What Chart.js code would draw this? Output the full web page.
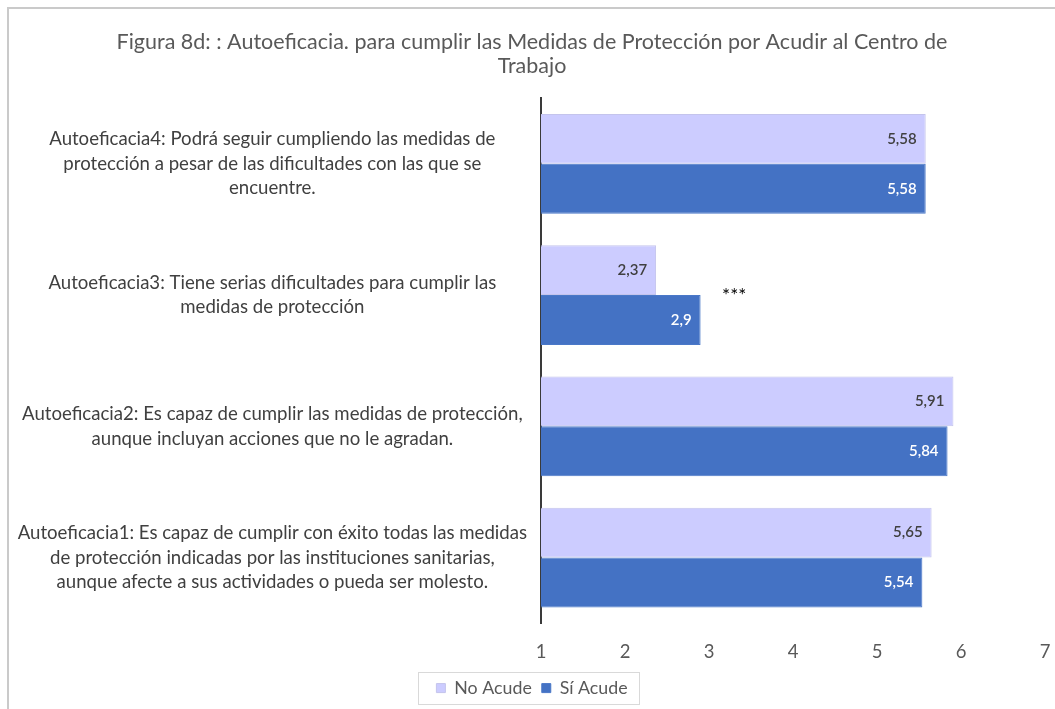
<!DOCTYPE html>
<html>
<head>
<meta charset="utf-8">
<script src="https://cdn.jsdelivr.net/npm/chart.js@4/dist/chart.umd.min.js"></script>
<style>
  html, body { margin: 0; padding: 0; background: #fff; overflow: hidden; }
  #frame {
    position: absolute; left: 7px; top: 7px;
    width: 1048px; height: 702px;
    border-top: 2px solid #cacaca; border-left: 2px solid #cacaca;
  }
  #chart { display: block; }
</style>
</head>
<body>
<div id="frame"><canvas id="chart" width="1046" height="700"></canvas></div>
<script>
// ----- data -----
const titleLines = ['Figura 8d: : Autoeficacia. para cumplir las Medidas de Protección por Acudir al Centro de', 'Trabajo'];
const categories = [
  ['Autoeficacia4: Podrá seguir cumpliendo las medidas de', 'protección a pesar de las dificultades con las que se', 'encuentre.'],
  ['Autoeficacia3: Tiene serias dificultades para cumplir las', 'medidas de protección'],
  ['Autoeficacia2: Es capaz de cumplir las medidas de protección,', 'aunque incluyan acciones que no le agradan.'],
  ['Autoeficacia1: Es capaz de cumplir con éxito todas las medidas', 'de protección indicadas por las instituciones sanitarias,', 'aunque afecte a sus actividades o pueda ser molesto.']
];
const noAcude = [5.58, 2.37, 5.91, 5.65];
const siAcude = [5.58, 2.9, 5.84, 5.54];
const seriesNames = ['No Acude', 'Sí Acude'];
const significance = ['', '***', '', ''];
const xTicks = [1, 2, 3, 4, 5, 6, 7];

const FONT = 'Lato, "Open Sans", sans-serif';

// value labels at the inner end of each bar
const barLabels = {
  id: 'barLabels',
  afterDatasetsDraw(chart) {
    const ctx = chart.ctx;
    ctx.save();
    ctx.font = '600 15px ' + FONT;
    ctx.textAlign = 'right';
    ctx.textBaseline = 'middle';
    chart.data.datasets.forEach((ds, di) => {
      const meta = chart.getDatasetMeta(di);
      meta.data.forEach((bar, i) => {
        ctx.fillStyle = di === 0 ? '#404040' : '#ffffff';
        ctx.fillText(String(ds.data[i]).replace('.', ','), bar.x - 9, bar.y);
      });
    });
    // significance marks beside the longest bar of the group
    const xs = chart.scales.x, ys = chart.scales.y;
    ctx.font = '19px ' + FONT;
    ctx.fillStyle = '#000';
    ctx.textAlign = 'center';
    significance.forEach((s, i) => {
      if (!s) return;
      const v = Math.max(noAcude[i], siAcude[i]) + 0.4;
      ctx.fillText(s, xs.getPixelForValue(v), ys.getPixelForValue(i) + 1);
    });
    ctx.restore();
  }
};

// thin frame round the legend
const legendFrame = {
  id: 'legendFrame',
  afterDraw(chart) {
    const boxes = chart.legend.legendHitBoxes;
    if (!boxes || !boxes.length) return;
    const l = Math.min(...boxes.map(b => b.left)) - 18;
    const r = Math.max(...boxes.map(b => b.left + b.width)) + 12;
    const t = Math.min(...boxes.map(b => b.top)) - 7;
    const bt = Math.max(...boxes.map(b => b.top + b.height)) + 7;
    const ctx = chart.ctx;
    ctx.save();
    ctx.strokeStyle = '#d9d9d9';
    ctx.lineWidth = 1;
    ctx.strokeRect(Math.round(l) + 0.5, Math.round(t) + 0.5, Math.round(r - l), Math.round(bt - t));
    ctx.restore();
  }
};

new Chart(document.getElementById('chart'), {
  type: 'bar',
  data: {
    labels: categories,
    datasets: [
      { label: seriesNames[0], data: noAcude, backgroundColor: '#ccccff', borderColor: '#c4c4ec', borderWidth: 1, borderSkipped: 'left' },
      { label: seriesNames[1], data: siAcude, backgroundColor: '#4472c4', borderColor: '#4a78c8', borderWidth: 1, borderSkipped: 'left' }
    ]
  },
  options: {
    indexAxis: 'y',
    responsive: false,
    animation: false,
    categoryPercentage: 0.76,
    barPercentage: 1.0,
    layout: { padding: { left: 0, right: 0, top: 0, bottom: 2 } },
    plugins: {
      title: {
        display: true,
        text: titleLines,
        color: '#595959',
        font: { family: FONT, size: 21.5, weight: 'normal', lineHeight: 1.12 },
        padding: { top: 21, bottom: 20 }
      },
      legend: {
        position: 'bottom',
        labels: {
          color: '#595959',
          font: { family: FONT, size: 17.8 },
          boxWidth: 9, boxHeight: 9,
          padding: 10
        }
      },
      tooltip: { enabled: false }
    },
    scales: {
      x: {
        min: 1, max: 7,
        afterBuildTicks(scale) { scale.ticks = xTicks.map(v => ({ value: v })); },
        afterFit(scale) { scale.height = 46; scale.paddingLeft = 0; scale.paddingRight = 10; },
        grid: { display: false },
        border: { display: false },
        ticks: { color: '#595959', font: { family: FONT, size: 18.5 }, padding: 10 }
      },
      y: {
        afterFit(scale) { scale.width = 532; },
        grid: { display: false, drawTicks: false },
        border: { display: true, color: '#3a3a3a', width: 2 },
        ticks: {
          color: '#404040',
          crossAlign: 'center',
          padding: 14,
          font: { family: FONT, size: 18.6, lineHeight: 1.32 }
        }
      }
    }
  },
  plugins: [barLabels, legendFrame]
});
</script>
</body>
</html>
